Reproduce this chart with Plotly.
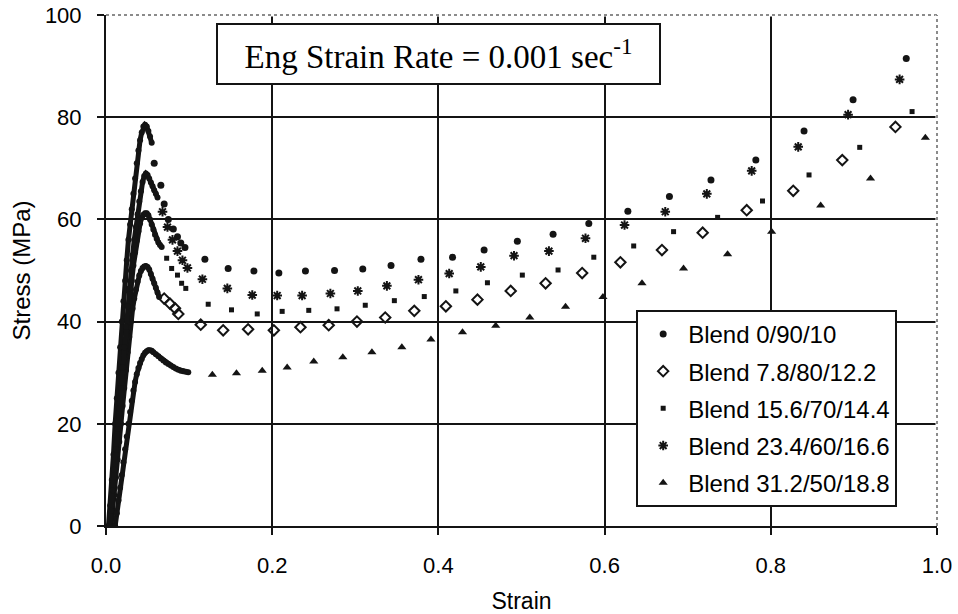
import plotly.graph_objects as go

# ---------------- tick labels ----------------
x_ticks = [0.0, 0.2, 0.4, 0.6, 0.8, 1.0]
x_tick_labels = ["0.0", "0.2", "0.4", "0.6", "0.8", "1.0"]
y_ticks = [0, 20, 40, 60, 80, 100]
y_tick_labels = ["0", "20", "40", "60", "80", "100"]

# ---------------- Blend 0/90/10 ----------------
strain_0_90_10_dense = [0.003, 0.005, 0.007, 0.009, 0.011, 0.013, 0.015, 0.017, 0.019, 0.021,
                        0.023, 0.025, 0.027, 0.029, 0.031, 0.033, 0.035, 0.037, 0.039, 0.041,
                        0.043, 0.045, 0.047, 0.049, 0.051, 0.053, 0.055]
stress_0_90_10_dense = [0, 4, 9, 14, 20, 25, 30, 35, 40, 44,
                        48, 52, 56, 59, 62, 65, 68, 71, 73.5, 75.5,
                        77, 78.2, 78.5, 78.2, 77.3, 76.2, 75]
strain_0_90_10 = [0.058, 0.066, 0.070, 0.075, 0.081, 0.086, 0.090, 0.095, 0.119, 0.147,
                  0.178, 0.208, 0.240, 0.275, 0.309, 0.343, 0.379, 0.417, 0.455, 0.495,
                  0.538, 0.581, 0.628, 0.678, 0.728, 0.782, 0.840, 0.899, 0.963]
stress_0_90_10 = [71.0, 66.7, 63.0, 60.0, 58.1, 56.6, 55.4, 54.5, 52.2, 50.4,
                  49.9, 49.5, 49.9, 50.0, 50.3, 51.0, 52.2, 52.6, 54.0, 55.7,
                  57.1, 59.2, 61.6, 64.5, 67.7, 71.6, 77.3, 83.4, 91.5]

# ---------------- Blend 7.8/80/12.2 ----------------
strain_7_8_dense = [0.006, 0.008, 0.010, 0.012, 0.014, 0.016, 0.018, 0.020, 0.022, 0.024,
                    0.026, 0.028, 0.030, 0.032, 0.034, 0.036, 0.038, 0.040, 0.042, 0.044,
                    0.046, 0.048, 0.050, 0.052, 0.054, 0.056, 0.058, 0.060, 0.062, 0.064]
stress_7_8_dense = [0, 3, 6, 9.5, 13, 16.5, 20, 23.5, 27, 30.5,
                    34, 37, 40, 42.5, 44.5, 46.3, 47.8, 49, 49.9, 50.5,
                    50.8, 50.9, 50.7, 50.2, 49.3, 48.4, 47.5, 46.6, 45.7, 44.8]
strain_7_8 = [0.070, 0.077, 0.083, 0.087, 0.114, 0.141, 0.171, 0.202, 0.234, 0.268,
              0.302, 0.336, 0.371, 0.409, 0.447, 0.487, 0.529, 0.573, 0.619, 0.669,
              0.718, 0.771, 0.827, 0.886, 0.950]
stress_7_8 = [44.5, 43.5, 42.6, 41.5, 39.4, 38.3, 38.5, 38.3, 38.9, 39.3,
              40.0, 40.8, 42.1, 43.0, 44.3, 46.0, 47.5, 49.5, 51.6, 54.0,
              57.4, 61.8, 65.6, 71.6, 78.1]

# ---------------- Blend 15.6/70/14.4 ----------------
strain_15_6_dense = [0.005, 0.007, 0.009, 0.011, 0.013, 0.015, 0.017, 0.019, 0.021, 0.023,
                     0.025, 0.027, 0.029, 0.031, 0.033, 0.035, 0.037, 0.039, 0.041, 0.043,
                     0.045, 0.047, 0.049, 0.051, 0.053, 0.055, 0.057, 0.059, 0.061, 0.063,
                     0.065, 0.067]
stress_15_6_dense = [0, 3, 6.5, 10, 14, 18, 22, 26, 30, 34,
                     38, 41.5, 45, 48, 51, 53.5, 55.8, 57.7, 59.2, 60.3,
                     60.9, 61.2, 61.2, 60.8, 60.0, 59.0, 58.0, 57.0, 56.2, 55.5,
                     55.0, 54.6]
strain_15_6 = [0.073, 0.079, 0.086, 0.091, 0.096, 0.123, 0.151, 0.182, 0.212, 0.244,
               0.278, 0.312, 0.347, 0.383, 0.421, 0.459, 0.501, 0.544, 0.587, 0.635,
               0.683, 0.736, 0.790, 0.846, 0.907, 0.970]
stress_15_6 = [52.4, 50.4, 49.1, 47.5, 46.5, 43.4, 42.3, 41.5, 42.0, 42.2,
               42.5, 43.2, 44.1, 44.9, 46.0, 47.6, 49.1, 50.1, 52.6, 54.8,
               57.6, 60.4, 63.6, 68.7, 74.1, 81.1]

# ---------------- Blend 23.4/60/16.6 ----------------
strain_23_4_dense = [0.004, 0.006, 0.008, 0.010, 0.012, 0.014, 0.016, 0.018, 0.020, 0.022,
                     0.024, 0.026, 0.028, 0.030, 0.032, 0.034, 0.036, 0.038, 0.040, 0.042,
                     0.044, 0.046, 0.048, 0.050, 0.052, 0.054, 0.056, 0.058, 0.060, 0.062]
stress_23_4_dense = [0, 3, 7, 11, 15, 19, 23, 27, 31, 35,
                     39, 43, 46.5, 50, 53, 56, 58.5, 61, 63.5, 65.5,
                     67.3, 68.5, 69.0, 68.7, 68.0, 67.2, 66.5, 65.7, 65.0, 64.3]
strain_23_4 = [0.068, 0.074, 0.080, 0.086, 0.092, 0.098, 0.116, 0.146, 0.176, 0.206,
               0.236, 0.270, 0.303, 0.338, 0.376, 0.413, 0.451, 0.491, 0.533, 0.577,
               0.624, 0.673, 0.723, 0.777, 0.833, 0.893, 0.955]
stress_23_4 = [61.5, 58.5, 56.0, 53.8, 52.0, 50.5, 48.3, 46.5, 45.2, 45.1,
               45.1, 45.5, 46.0, 47.0, 48.2, 49.4, 50.7, 52.9, 53.8, 56.3,
               58.9, 61.5, 65.0, 69.5, 74.2, 80.5, 87.4]

# ---------------- Blend 31.2/50/18.8 ----------------
strain_31_2_dense = [0.011, 0.013, 0.015, 0.017, 0.019, 0.021, 0.023, 0.025, 0.027, 0.029,
                     0.031, 0.033, 0.035, 0.037, 0.039, 0.041, 0.043, 0.045, 0.047, 0.049,
                     0.051, 0.053, 0.055, 0.057, 0.060, 0.063, 0.066, 0.069, 0.072, 0.075,
                     0.078, 0.081, 0.084, 0.087, 0.090, 0.093, 0.096, 0.099]
stress_31_2_dense = [0, 2.5, 5, 7.5, 10, 12.5, 15, 17.5, 20, 22.3,
                     24.5, 26.5, 28.2, 29.7, 30.9, 31.9, 32.7, 33.4, 33.9, 34.2,
                     34.4, 34.4, 34.3, 34.0, 33.6, 33.2, 32.8, 32.4, 32.0, 31.7,
                     31.4, 31.1, 30.8, 30.6, 30.4, 30.3, 30.2, 30.1]
strain_31_2 = [0.128, 0.157, 0.188, 0.218, 0.250, 0.285, 0.320, 0.356, 0.391, 0.429,
               0.469, 0.510, 0.553, 0.598, 0.645, 0.695, 0.748, 0.801, 0.860, 0.920,
               0.986]
stress_31_2 = [29.6, 29.9, 30.4, 31.0, 32.2, 33.0, 34.0, 35.0, 36.5, 37.9,
               39.2, 40.8, 42.9, 44.8, 47.5, 50.4, 53.2, 57.6, 62.7, 68.0,
               76.0]

series_names = ["Blend 0/90/10", "Blend 7.8/80/12.2", "Blend 15.6/70/14.4",
                "Blend 23.4/60/16.6", "Blend 31.2/50/18.8"]
annotation_text = "Eng Strain Rate = 0.001 sec<sup>-1</sup>"

INK = "#141414"
SANS = "Liberation Sans, Arial, Helvetica, sans-serif"
SERIF = "Liberation Serif, Times New Roman, serif"

series = [
    (series_names[0], strain_0_90_10_dense, stress_0_90_10_dense, strain_0_90_10, stress_0_90_10,
     dict(symbol="circle", size=7, color=INK)),
    (series_names[1], strain_7_8_dense, stress_7_8_dense, strain_7_8, stress_7_8,
     dict(symbol="diamond-open", size=8, color=INK, line=dict(color=INK, width=2))),
    (series_names[2], strain_15_6_dense, stress_15_6_dense, strain_15_6, stress_15_6,
     dict(symbol="square", size=5, color=INK)),
    (series_names[3], strain_23_4_dense, stress_23_4_dense, strain_23_4, stress_23_4,
     dict(symbol="asterisk-open", size=8, color=INK, line=dict(color=INK, width=2))),
    (series_names[4], strain_31_2_dense, stress_31_2_dense, strain_31_2, stress_31_2,
     dict(symbol="triangle-up", size=8, color=INK)),
]

fig = go.Figure()
for i, (name, xd, yd, xs, ys, mk) in enumerate(series):
    fig.add_trace(go.Scatter(x=xd, y=yd, mode="lines+markers", name=name,
                             legendgroup=name, showlegend=False,
                             line=dict(color=INK, width=5),
                             marker=dict(symbol="circle", size=6, color=INK)))
    fig.add_trace(go.Scatter(x=xs, y=ys, mode="markers", name=name,
                             legendgroup=name, showlegend=True, marker=mk))

axis_common = dict(
    showgrid=True, gridcolor=INK, gridwidth=2,
    showline=True, linecolor=INK, linewidth=2,
    ticks="outside", ticklen=7, tickwidth=2, tickcolor=INK,
    zeroline=False, mirror=False, automargin=False,
    tickfont=dict(family=SANS, size=22, color="black"),
)

fig.update_layout(
    width=958, height=614,
    margin=dict(l=106, r=21, t=15, b=88),
    paper_bgcolor="white", plot_bgcolor="white",
    xaxis=dict(range=[0, 1], tickvals=x_ticks, ticktext=x_tick_labels,
               ticklabelstandoff=12,
               title=dict(text="Strain", font=dict(family=SANS, size=23, color="black"), standoff=20),
               **axis_common),
    yaxis=dict(range=[0, 100], tickvals=y_ticks, ticktext=y_tick_labels,
               ticklabelstandoff=11,
               title=dict(text="Stress (MPa)", font=dict(family=SANS, size=24, color="black"), standoff=7),
               **axis_common),
    legend=dict(x=0.638, y=0.423, xanchor="left", yanchor="top",
                bordercolor=INK, borderwidth=2, bgcolor="white",
                font=dict(family=SANS, size=24, color="black"),
                tracegroupgap=3, itemwidth=40),
    showlegend=True,
    annotations=[dict(
        text=annotation_text, xref="paper", yref="paper", x=0.400, y=0.924,
        xanchor="center", yanchor="middle", showarrow=False,
        font=dict(family=SERIF, size=33, color="black"),
        bordercolor=INK, borderwidth=2, borderpad=2, bgcolor="white",
        width=437, height=54, align="center")],
    shapes=[
        dict(type="line", xref="paper", yref="paper", x0=0, x1=1, y0=1, y1=1,
             line=dict(color="white", width=3), layer="above"),
        dict(type="line", xref="paper", yref="paper", x0=0, x1=1, y0=1, y1=1,
             line=dict(color="#666", width=1.5, dash="dot"), layer="above"),
        dict(type="line", xref="paper", yref="paper", x0=1, x1=1, y0=0, y1=1,
             line=dict(color="white", width=3), layer="above"),
        dict(type="line", xref="paper", yref="paper", x0=1, x1=1, y0=0, y1=1,
             line=dict(color="#666", width=1.5, dash="dot"), layer="above"),
    ],
)

fig.write_html("out.html")
